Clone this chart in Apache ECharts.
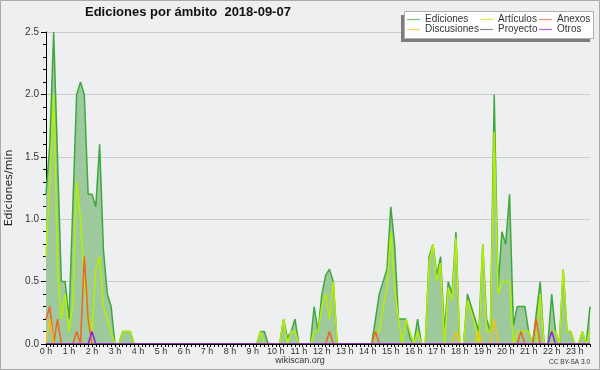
<!DOCTYPE html>
<html><head><meta charset="utf-8">
<script src="https://cdn.jsdelivr.net/npm/echarts@6/dist/echarts.min.js"></script>
<style>html,body{margin:0;padding:0;background:#eeeff1}#c{width:600px;height:370px}</style>
</head><body><div id="c"></div>
<script>
// tick labels (one per hour)
const hourLabels = ['0 h','1 h','2 h','3 h','4 h','5 h','6 h','7 h','8 h','9 h','10 h','11 h',
  '12 h','13 h','14 h','15 h','16 h','17 h','18 h','19 h','20 h','21 h','22 h','23 h'];
// categories: 10-minute slots 0:00 .. 23:40
const times = [];
for (let h = 0; h < 24; h++) for (let m = 0; m < 60; m += 10) if (times.length < 143) times.push(h + ':' + (m < 10 ? '0' + m : m));

// series values (edits per minute), one row per hour
const ediciones = [
  1.2,1.6,2.5,1.5,0.5,0.5,
  0.2,1.1,2.0,2.1,2.0,1.2,
  1.2,1.1,1.6,0.75,0.4,0.3,
  0,0,0.1,0.1,0.1,0,
  0,0,0,0,0,0,
  0,0,0,0,0,0,
  0,0,0,0,0,0,
  0,0,0,0,0,0,
  0,0,0,0,0,0,
  0,0,0.1,0.1,0,0,
  0,0,0.2,0.05,0.1,0.2,
  0,0,0,0,0.3,0.1,
  0.4,0.55,0.6,0.5,0,0,
  0,0,0,0,0,0,
  0,0,0.2,0.4,0.5,0.6,
  1.1,0.8,0.2,0.2,0.2,0.05,
  0,0.2,0,0,0.7,0.8,
  0.55,0.7,0.1,0.5,0.4,0.9,
  0,0,0.4,0.3,0.2,0.1,
  0.8,0.2,0.1,2.0,0.45,0.9,
  0.8,1.2,0.15,0.3,0.3,0.3,
  0.1,0,0.25,0.5,0,0,
  0.4,0.1,0,0.6,0.1,0.1,
  0,0,0.1,0,0.3
];
const articulos = [
  0.7,1.3,2.0,0.6,0.2,0.4,
  0.1,0.3,1.3,1.0,0.5,0.25,
  0.1,0.6,0.7,0.3,0.2,0.1,
  0,0,0.1,0.1,0.1,0,
  0,0,0,0,0,0,
  0,0,0,0,0,0,
  0,0,0,0,0,0,
  0,0,0,0,0,0,
  0,0,0,0,0,0,
  0,0,0.1,0,0,0,
  0,0,0.2,0,0.1,0.1,
  0,0,0,0,0.1,0.1,
  0.3,0.4,0.2,0.5,0,0,
  0,0,0,0,0,0,
  0,0,0.1,0.1,0.3,0.45,
  0.9,0.45,0.2,0,0.2,0.1,
  0,0.1,0,0,0.65,0.8,
  0.5,0.65,0,0.45,0.35,0.85,
  0,0,0.35,0.25,0.15,0,
  0.8,0.1,0.1,1.7,0.4,0.5,
  0.5,0.5,0,0.1,0.1,0.1,
  0.1,0,0,0.4,0,0,
  0.1,0.1,0,0.6,0.1,0.1,
  0,0,0.1,0,0.1
];
const anexos = [
  0.2,0.3,0,0.2,0,0,
  0,0,0.1,0,0.7,0.2,
  0,0,0,0,0,0,
  0,0,0,0,0,0,
  0,0,0,0,0,0,
  0,0,0,0,0,0,
  0,0,0,0,0,0,
  0,0,0,0,0,0,
  0,0,0,0,0,0,
  0,0,0,0,0,0,
  0,0,0,0,0,0,
  0,0,0,0,0,0,
  0,0,0.1,0,0,0,
  0,0,0,0,0,0,
  0,0,0.1,0,0,0,
  0,0,0,0,0,0,
  0,0,0,0,0,0,
  0,0,0,0,0,0,
  0,0,0,0,0,0,
  0,0,0,0,0,0,
  0,0,0,0,0.1,0,
  0,0,0.2,0,0,0,
  0,0,0,0,0,0,
  0,0,0,0,0
];
const discusiones = [
  0,0.2,0,0,0,0,
  0,0,0,0,0,0,
  0,0,0,0,0,0,
  0,0,0,0,0,0,
  0,0,0,0,0,0,
  0,0,0,0,0,0,
  0,0,0,0,0,0,
  0,0,0,0,0,0,
  0,0,0,0,0,0,
  0,0,0,0,0,0,
  0,0,0,0,0,0,
  0,0,0,0,0,0,
  0,0,0,0,0,0,
  0,0,0,0,0,0,
  0,0,0,0,0,0,
  0,0,0,0,0,0,
  0,0,0,0,0,0,
  0,0,0,0,0,0.1,
  0,0,0,0,0,0.1,
  0,0,0,0.2,0,0,
  0,0,0,0,0,0,
  0,0,0,0,0,0,
  0,0,0,0,0,0,
  0,0,0,0,0
];
const proyecto = [
  0,0,0,0,0,0, 0,0,0,0,0,0, 0,0,0,0,0,0, 0,0,0,0,0,0,
  0,0,0,0,0,0, 0,0,0,0,0,0, 0,0,0,0,0,0, 0,0,0,0,0,0,
  0,0,0,0,0,0, 0,0,0,0,0,0, 0,0,0,0,0,0, 0,0,0,0,0,0,
  0,0,0,0,0,0, 0,0,0,0,0,0, 0,0,0,0,0,0, 0,0,0,0,0,0,
  0,0,0,0,0,0, 0,0,0,0,0,0, 0,0,0,0,0,0, 0,0,0,0,0,0,
  0,0,0,0,0,0, 0,0,0,0,0,0, 0,0,0,0,0,0, 0,0,0,0,0
];
const otros = [
  0,0,0,0,0,0,
  0,0,0,0,0,0,
  0.1,0,0,0,0,0,
  0,0,0,0,0,0,
  0,0,0,0,0,0,
  0,0,0,0,0,0,
  0,0,0,0,0,0,
  0,0,0,0,0,0,
  0,0,0,0,0,0,
  0,0,0,0,0,0,
  0,0,0,0,0,0,
  0,0,0,0,0,0,
  0,0,0,0,0,0,
  0,0,0,0,0,0,
  0,0,0,0,0,0,
  0,0,0,0,0,0,
  0,0,0,0,0,0,
  0,0,0,0,0,0,
  0,0,0,0,0,0,
  0,0,0,0,0,0,
  0,0,0,0,0,0,
  0,0,0,0,0,0,
  0.1,0,0,0,0,0,
  0,0,0,0,0
];

const narrow = "'Liberation Sans Narrow', 'Liberation Sans', sans-serif";
const chart = echarts.init(document.getElementById('c'), null, {renderer: 'canvas', width: 600, height: 370});

function lineSeries(name, data, color) {
  return {name, type: 'line', data, symbol: 'none', showSymbol: false,
    lineStyle: {color, width: 1.5}, itemStyle: {color}, animation: false};
}
const legendCommon = {orient: 'vertical', top: 14.5, icon: 'rect', itemWidth: 13, itemHeight: 1.2, itemGap: 0,
  selectedMode: false, padding: 0, z: 5, itemStyle: {opacity: 0.7},
  textStyle: {fontFamily: 'Liberation Sans', fontSize: 10, color: '#333', lineHeight: 10}};

chart.setOption({
  animation: false,
  backgroundColor: '#eeeff1',
  title: {text: 'Ediciones por ámbito  2018-09-07', left: 85, top: 6, padding: 0,
    textStyle: {fontFamily: 'Liberation Sans', fontWeight: 'bold', fontSize: 13, color: '#111'}},
  grid: {left: 46, right: 10, top: 32, bottom: 26, containLabel: false, outerBoundsMode: 'none'},
  legend: [
    Object.assign({data: ['Ediciones', 'Discusiones'], left: 407}, legendCommon),
    Object.assign({data: ['Artículos', 'Proyecto'], left: 480}, legendCommon),
    Object.assign({data: ['Anexos', 'Otros'], left: 539}, legendCommon)
  ],
  xAxis: {type: 'category', data: times, boundaryGap: false, z: 10,
    axisLine: {lineStyle: {color: '#000', width: 1}},
    axisTick: {interval: 0, length: 3, lineStyle: {color: '#000'}},
    axisLabel: {interval: (i) => i % 6 === 0, formatter: (v, i) => hourLabels[Math.floor(i / 6)],
      margin: 3, fontSize: 9, color: '#333', fontFamily: narrow},
    splitLine: {show: false}},
  yAxis: {type: 'value', min: 0, max: 2.5, interval: 0.5,
    name: 'Ediciones/min', nameLocation: 'middle', nameGap: 29,
    nameTextStyle: {fontFamily: 'DejaVu Sans', fontSize: 11, color: '#222'},
    axisLine: {show: true, lineStyle: {color: '#000'}},
    axisTick: {show: true, length: 5, lineStyle: {color: '#000'}},
    minorTick: {show: true, splitNumber: 5, length: 3, lineStyle: {color: '#000'}},
    axisLabel: {formatter: (v) => v.toFixed(1), fontSize: 10, margin: 7, color: '#333', fontFamily: narrow},
    splitLine: {lineStyle: {color: '#cccccc', width: 1}}},
  series: [
    Object.assign(lineSeries('Ediciones', ediciones, '#3ea83e'), {areaStyle: {color: '#9dc99d', opacity: 1}}),
    lineSeries('Artículos', articulos, '#b6ee00'),
    lineSeries('Anexos', anexos, '#f26420'),
    lineSeries('Discusiones', discusiones, '#f2c21a'),
    lineSeries('Proyecto', proyecto, '#555555'),
    lineSeries('Otros', otros, '#8e22d8')
  ],
  graphic: [
    {type: 'rect', z: 1, shape: {x: 0.5, y: 0.5, width: 599, height: 369}, style: {fill: null, stroke: '#aaaaaa', lineWidth: 1}},
    {type: 'rect', z: 1, shape: {x: 401, y: 15, width: 189, height: 27}, style: {fill: '#7d7d7d'}},
    {type: 'rect', z: 1, shape: {x: 404.5, y: 11.5, width: 189, height: 27}, style: {fill: '#ffffff', stroke: '#b0b0b0', lineWidth: 1}},
    {type: 'text', z: 1, x: 300, y: 361, style: {text: 'wikiscan.org', fill: '#333', font: '9px Liberation Sans', textAlign: 'center', textVerticalAlign: 'middle'}},
    {type: 'text', z: 1, x: 590, y: 362, style: {text: 'CC BY-SA 3.0', fill: '#333', font: '6.5px Liberation Sans', textAlign: 'right', textVerticalAlign: 'middle'}}
  ]
});
</script></body></html>
